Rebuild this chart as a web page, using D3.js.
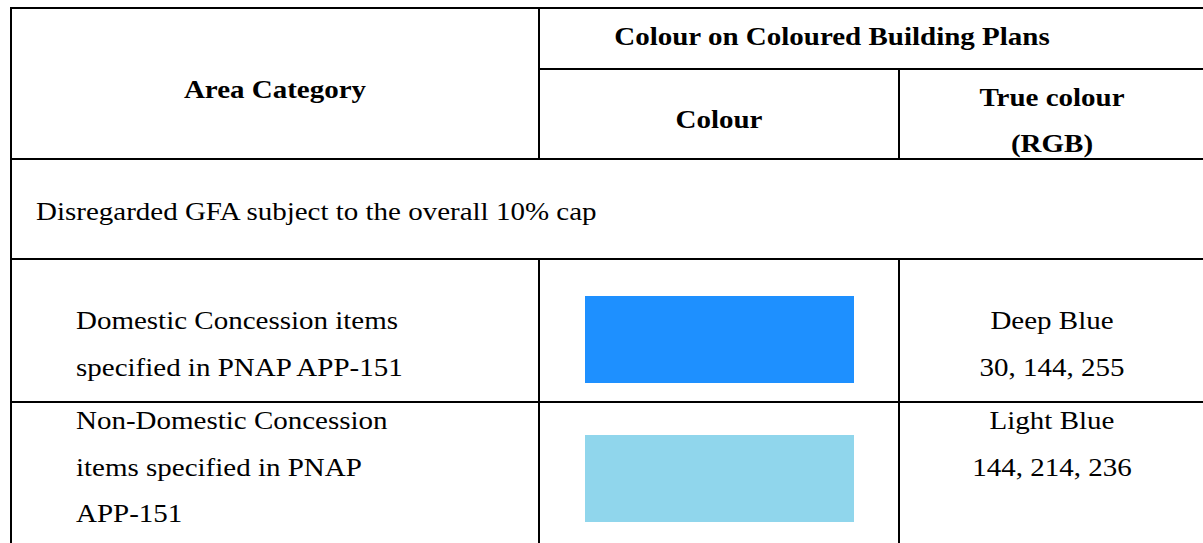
<!DOCTYPE html>
<html>
<head>
<meta charset="utf-8">
<script src="https://cdn.jsdelivr.net/npm/d3@7"></script>
<style>
  body { margin: 0; background: #ffffff; }
</style>
</head>
<body>
<div id="chart"></div>
<script>
// table content
var headerMain = "Area Category";
var headerGroup = "Colour on Coloured Building Plans";
var headerSub = ["Colour", ["True colour", "(RGB)"]];
var sectionTitle = "Disregarded GFA subject to the overall 10% cap";
var categories = [
    ["Domestic Concession items", "specified in PNAP APP-151"],
    ["Non-Domestic Concession", "items specified in PNAP", "APP-151"]
];
var colourNames = ["Deep Blue", "Light Blue"];
var rgbValues = [[30, 144, 255], [144, 214, 236]];

var W = 1203, H = 543;
var svg = d3.select("#chart").append("svg")
    .attr("width", W)
    .attr("height", H);

// column edges and row edges of the grid
var colEdge = [11, 539, 899, 1210];
var rowEdge = [8, 159, 259, 402, 550];
var subRowY = 69;
var fs = 25, sx = 1.16, lineH = 46.5;

function txt(x, y, s, bold, anchor) {
    svg.append("text")
        .attr("transform", "translate(" + x + "," + y + ") scale(" + sx + ",1)")
        .attr("text-anchor", anchor || "start")
        .style("font-family", "'Liberation Serif', 'Times New Roman', serif")
        .style("font-size", fs + "px")
        .style("font-weight", bold ? "bold" : "normal")
        .style("fill", "#000")
        .text(s);
}

function line(x1, y1, x2, y2) {
    svg.append("line")
        .attr("x1", x1).attr("y1", y1)
        .attr("x2", x2).attr("y2", y2)
        .attr("stroke", "#000")
        .attr("stroke-width", 2);
}

// row scale for the item rows
var rowScale = d3.scaleOrdinal()
    .domain(d3.range(categories.length))
    .range([rowEdge[2], rowEdge[3]]);

// swatches
var swatchX = d3.scaleLinear().domain([0, 1]).range([585, 854]);
svg.selectAll("rect.swatch")
    .data(rgbValues)
    .enter()
    .append("rect")
    .attr("class", "swatch")
    .attr("x", swatchX(0))
    .attr("y", function(d, i){ return rowScale(i) + 37 + (i == 1 ? -4 : 0); })
    .attr("width", swatchX(1) - swatchX(0))
    .attr("height", 87)
    .attr("fill", function(d){ return d3.rgb(d[0], d[1], d[2]); });

// grid lines
line(colEdge[0] - 1, rowEdge[0], W + 5, rowEdge[0]);
line(colEdge[0], rowEdge[0], colEdge[0], H + 5);
line(colEdge[1], rowEdge[0], colEdge[1], rowEdge[1]);
line(colEdge[1], subRowY, W + 5, subRowY);
line(colEdge[2], subRowY, colEdge[2], rowEdge[1]);
line(colEdge[0], rowEdge[1], W + 5, rowEdge[1]);
line(colEdge[0], rowEdge[2], W + 5, rowEdge[2]);
line(colEdge[1], rowEdge[2], colEdge[1], H + 5);
line(colEdge[2], rowEdge[2], colEdge[2], H + 5);
line(colEdge[0], rowEdge[3], W + 5, rowEdge[3]);

// header text
var c0 = (colEdge[0] + colEdge[1]) / 2;
var c1 = (colEdge[1] + colEdge[2]) / 2;
var c2 = 1052;
txt(c0, 98, headerMain, true, "middle");
txt(832, 45, headerGroup, true, "middle");
txt(c1, 128, headerSub[0], true, "middle");
txt(c2, 106, headerSub[1][0], true, "middle");
txt(c2, 152, headerSub[1][1], true, "middle");

txt(36, 220, sectionTitle, false, "start");

// item rows
var firstBase = [329, 429];
categories.forEach(function(lines, i){
    lines.forEach(function(s, j){
        txt(76, firstBase[i] + j * lineH, s, false, "start");
    });
    txt(c2, firstBase[i], colourNames[i], false, "middle");
    txt(c2, firstBase[i] + lineH, rgbValues[i].join(", "), false, "middle");
});
</script>
</body>
</html>
